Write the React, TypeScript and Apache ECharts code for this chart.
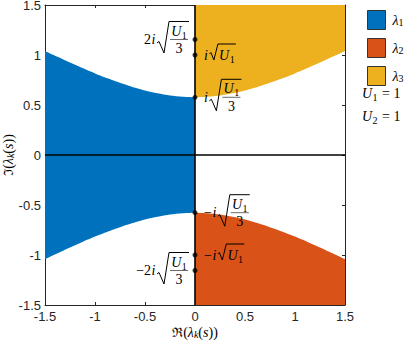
import React, { useEffect, useRef } from 'react';
import * as echarts from 'echarts';

// ---- axis range ----
const AXIS_MIN = -1.5;
const AXIS_MAX = 1.5;
const AXIS_STEP = 0.5;

// ---- boundary of region λ1 (left half plane) ----
const realNeg = [-1.5, -1.375, -1.25, -1.125, -1, -0.875, -0.75, -0.625, -0.5, -0.375, -0.25, -0.125, 0];
const imagNeg = [1.041, 0.982, 0.924, 0.869, 0.816, 0.767, 0.722, 0.681, 0.645, 0.617, 0.595, 0.582, 0.577];
// ---- boundary of regions λ2 / λ3 (right half plane) ----
const realPos = [0, 0.125, 0.25, 0.375, 0.5, 0.625, 0.75, 0.875, 1, 1.125, 1.25, 1.375, 1.5];
const imagPos = [0.577, 0.582, 0.595, 0.617, 0.645, 0.681, 0.722, 0.767, 0.816, 0.869, 0.924, 0.982, 1.041];

// ---- marked points on the imaginary axis ----
const markerImag = [1.155, 1, 0.577, -0.577, -1, -1.155];

// ---- annotations of the marked points ----
const annotations = [
  { imag: 1.155, sign: '', coef: '2', frac: true, side: 'left' },
  { imag: 1, sign: '', coef: '', frac: false, side: 'right' },
  { imag: 0.577, sign: '', coef: '', frac: true, side: 'right' },
  { imag: -0.577, sign: '\u2212', coef: '', frac: true, side: 'right' },
  { imag: -1, sign: '\u2212', coef: '', frac: false, side: 'right' },
  { imag: -1.155, sign: '\u2212', coef: '2', frac: true, side: 'left' },
];

const legendNames = ['λ1', 'λ2', 'λ3'];
const paramSubs = ['1', '2'];
const paramVals = ['1', '1'];

const C1 = '#0072BD';
const C2 = '#D95319';
const C3 = '#EDB120';
const AXIS_COLOR = '#262626';

const SERIF = '"Liberation Serif", "DejaVu Serif", "Times New Roman", serif';
const SANS = '"Liberation Sans", Arial, Helvetica, sans-serif';

let measureCtx: CanvasRenderingContext2D | null = null;
function textWidth(t: string, font: string): number {
  if (!measureCtx) measureCtx = document.createElement('canvas').getContext('2d');
  if (!measureCtx) return t.length * 7;
  measureCtx.font = font;
  return measureCtx.measureText(t).width;
}
const fontStr = (size: number, italic: boolean) => `${italic ? 'italic ' : ''}${size}px ${SERIF}`;

const ZTOP = 100;

function txt(text: string, x: number, y: number, size: number, italic: boolean, align = 'left') {
  return {
    type: 'text',
    x,
    y,
    z: ZTOP,
    silent: true,
    style: {
      text,
      font: fontStr(size, italic),
      fill: '#000',
      align,
      verticalAlign: 'middle',
      textAlign: align,
      textVerticalAlign: 'middle',
    },
  };
}

function subSym(sym: string, sub: string, x: number, cy: number) {
  const uW = textWidth(sym, fontStr(14, true));
  const sW = textWidth(sub, fontStr(10, false));
  return {
    width: uW + sW + 0.5,
    els: [txt(sym, x, cy, 14, true), txt(sub, x + uW + 0.5, cy + 4, 10, false)],
  };
}

function buildLabel(a: any, px: number, py: number) {
  const children: any[] = [];
  let x = 0;
  const upright = a.sign + a.coef;
  if (upright) {
    children.push(txt(upright, x, 0, 14, false));
    x += textWidth(upright, fontStr(14, false)) + 0.5;
  }
  children.push(txt('i', x, 0, 14, true));
  x += textWidth('i', fontStr(14, true));
  const x0 = x + 1.5;
  let total = 0;
  const stroke = { stroke: '#000', fill: 'none', lineWidth: 1 };
  if (a.frac) {
    const w = 20;
    children.push({
      type: 'polyline',
      silent: true,
      z: ZTOP,
      shape: { points: [[x0, 3.5], [x0 + 2, 2], [x0 + 7, 13.5], [x0 + 12, -18], [x0 + 12 + w, -18]] },
      style: stroke,
    });
    const cx = x0 + 12 + w / 2;
    const u = subSym('U', '1', 0, -8.5);
    const ux = cx - u.width / 2;
    u.els.forEach((e: any) => { e.x += ux; children.push(e); });
    children.push({
      type: 'line',
      silent: true,
      z: ZTOP,
      shape: { x1: x0 + 13, y1: 0, x2: x0 + 11 + w, y2: 0 },
      style: { stroke: '#444', lineWidth: 0.8 },
    });
    children.push(txt('3', cx, 9, 14, false, 'center'));
    total = x0 + 12 + w;
  } else {
    const w = 18;
    children.push({
      type: 'polyline',
      silent: true,
      z: ZTOP,
      shape: { points: [[x0, -1], [x0 + 1.5, -2.5], [x0 + 4.5, 5], [x0 + 8.5, -11], [x0 + 8.5 + w, -11]] },
      style: stroke,
    });
    const cx = x0 + 8.5 + w / 2;
    const u = subSym('U', '1', 0, 0);
    const ux = cx - u.width / 2;
    u.els.forEach((e: any) => { e.x += ux; children.push(e); });
    total = x0 + 8.5 + w;
  }
  return {
    type: 'group',
    x: a.side === 'right' ? px + 9 : px - 6 - total,
    y: py,
    z: ZTOP,
    children,
  };
}

const richBase = {
  n: { fontFamily: SERIF, fontSize: 14, color: '#000' },
  f: { fontFamily: '"DejaVu Serif", serif', fontSize: 13, color: '#000' },
  l: { fontFamily: SERIF, fontSize: 14, fontStyle: 'italic', color: '#000' },
  i: { fontFamily: SERIF, fontSize: 14, fontStyle: 'italic', color: '#000' },
  s: { fontFamily: SERIF, fontSize: 10, fontStyle: 'italic', color: '#000', verticalAlign: 'bottom' },
  d: { fontFamily: SERIF, fontSize: 10, color: '#000', verticalAlign: 'bottom' },
};

export default function App() {
  const ref = useRef<HTMLDivElement>(null);
  useEffect(() => {
    const chart = echarts.init(ref.current!, null, { renderer: 'svg' });
    const axisCommon = {
      type: 'value',
      min: AXIS_MIN,
      max: AXIS_MAX,
      interval: AXIS_STEP,
      axisLine: { onZero: false, lineStyle: { color: AXIS_COLOR, width: 1 } },
      axisTick: { inside: true, length: 3, lineStyle: { color: AXIS_COLOR } },
      splitLine: { show: false },
    };
    const areaLine = (name: string, color: string, data: number[][], origin: string) => ({
      name,
      type: 'line',
      color,
      data,
      showSymbol: false,
      smooth: 0.25,
      lineStyle: { width: 0 },
      areaStyle: { color, opacity: 1, origin },
      z: 1,
    });
    const option: any = {
      animation: false,
      backgroundColor: '#fff',
      grid: { left: 45, top: 5, width: 300, height: 300, containLabel: false, outerBoundsMode: 'none' },
      legend: {
        left: 362,
        top: 5,
        orient: 'vertical',
        icon: 'rect',
        itemWidth: 18,
        itemHeight: 19,
        itemGap: 8,
        data: legendNames,
        itemStyle: { borderColor: '#333', borderWidth: 1 },
        formatter: (name: string) => `{l|λ}{d|${name.slice(1)}}`,
        textStyle: { padding: [0, 0, 0, 2], rich: richBase },
        selectedMode: false,
      },
      xAxis: [
        {
          ...axisCommon,
          position: 'bottom',
          axisLabel: { color: AXIS_COLOR, fontSize: 13, fontFamily: SANS, margin: 5 },
          name: '{f|ℜ}{n|(}{l|λ}{s|k}{n|(}{i|s}{n|))}',
          nameLocation: 'middle',
          nameGap: 20,
          nameMoveOverlap: false,
          nameTextStyle: { rich: richBase },
        },
        { ...axisCommon, position: 'top', axisLabel: { show: false } },
      ],
      yAxis: [
        {
          ...axisCommon,
          position: 'left',
          axisLabel: { color: AXIS_COLOR, fontSize: 13, fontFamily: SANS, margin: 4 },
          name: '{f|ℑ}{n|(}{l|λ}{s|k}{n|(}{i|s}{n|))}',
          nameLocation: 'middle',
          nameGap: 30,
          nameRotate: 90,
          nameMoveOverlap: false,
          nameTextStyle: { rich: richBase },
        },
        { ...axisCommon, position: 'right', axisLabel: { show: false } },
      ],
      series: [
        areaLine(legendNames[0], C1, realNeg.map((x, k) => [x, imagNeg[k]]), 'auto'),
        areaLine(legendNames[0], C1, realNeg.map((x, k) => [x, -imagNeg[k]]), 'auto'),
        areaLine(legendNames[1], C2, realPos.map((x, k) => [x, -imagPos[k]]), 'start'),
        areaLine(legendNames[2], C3, realPos.map((x, k) => [x, imagPos[k]]), 'end'),
        {
          type: 'line',
          data: [[AXIS_MIN, 0], [AXIS_MAX, 0]],
          showSymbol: false,
          lineStyle: { color: '#000', width: 1.6 },
          silent: true,
          z: 3,
        },
        {
          type: 'line',
          data: [[0, AXIS_MIN], [0, AXIS_MAX]],
          showSymbol: false,
          lineStyle: { color: '#000', width: 1.6 },
          silent: true,
          z: 3,
        },
        {
          type: 'scatter',
          data: markerImag.map((y) => [0, y]),
          symbolSize: 5,
          itemStyle: { color: '#000' },
          silent: true,
          z: 4,
        },
      ],
    };
    chart.setOption(option);

    const graphics: any[] = annotations.map((a) => {
      const p = chart.convertToPixel({ gridIndex: 0 }, [0, a.imag]) as number[];
      return buildLabel(a, p[0], p[1]);
    });
    paramSubs.forEach((sub, k) => {
      const cy = 93 + k * 23;
      const u = subSym('U', sub, 0, 0);
      const children: any[] = [...u.els, txt(` = ${paramVals[k]}`, u.width + 1, 0, 14, false)];
      graphics.push({ type: 'group', x: 362, y: cy, children, z: ZTOP });
    });
    chart.setOption({ graphic: graphics });

    return () => chart.dispose();
  }, []);
  return <div ref={ref} style={{ position: 'fixed', left: 0, top: 0, width: 409, height: 340 }} />;
}
